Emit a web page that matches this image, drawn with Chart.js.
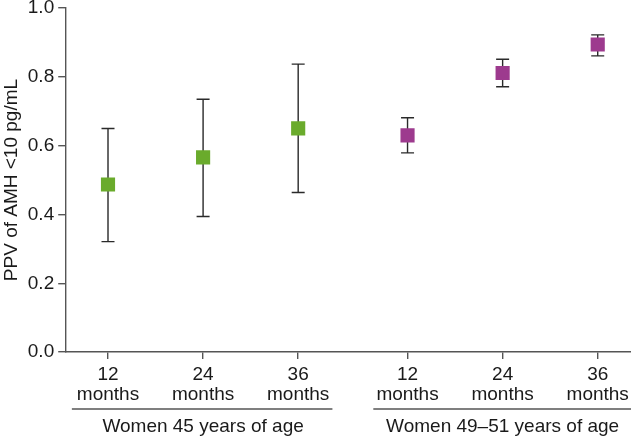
<!DOCTYPE html>
<html>
<head>
<meta charset="utf-8">
<script src="https://cdn.jsdelivr.net/npm/chart.js@4/dist/chart.umd.min.js"></script>
<style>
  body { margin: 0; background: #fff; }
  #wrap { width: 631px; height: 437px; }
</style>
</head>
<body>
<div id="wrap"><canvas id="chart"></canvas></div>
<script>
// positions on the x axis (gap between the two groups)
const xPos = [1, 2, 3, 4.15, 5.15, 6.15];
const monthLabels = ["12", "24", "36", "12", "24", "36"];
const groups = ["Women 45 years of age", "Women 49\u201351 years of age"];

// PPV values and error bars
const ppv = [0.487, 0.566, 0.650, 0.630, 0.811, 0.894];
const lower = [0.321, 0.394, 0.464, 0.579, 0.771, 0.861];
const upper = [0.650, 0.735, 0.837, 0.681, 0.851, 0.922];

const green = "#6aab2c";
const purple = "#9d3a8e";
const axisColor = "#555555";
const textColor = "#1a1a1a";
const fontFamily = "'Liberation Sans', Arial, sans-serif";

const points = xPos.map((x, i) => ({ x: x, y: ppv[i] }));

// error bars drawn behind the squares
const errorBars = {
  id: "errorBars",
  beforeDatasetsDraw(chart) {
    const ctx = chart.ctx;
    const xs = chart.scales.x;
    const ys = chart.scales.y;
    ctx.save();
    ctx.strokeStyle = "#2a2a2a";
    ctx.lineWidth = 1.4;
    xPos.forEach((x, i) => {
      const px = xs.getPixelForValue(x);
      const top = ys.getPixelForValue(upper[i]);
      const bot = ys.getPixelForValue(lower[i]);
      ctx.beginPath();
      ctx.moveTo(px, top); ctx.lineTo(px, bot);
      ctx.moveTo(px - 6.5, top); ctx.lineTo(px + 6.5, top);
      ctx.moveTo(px - 6.5, bot); ctx.lineTo(px + 6.5, bot);
      ctx.stroke();
    });
    ctx.restore();
  }
};

// group underline and label under the tick labels
const groupLabels = {
  id: "groupLabels",
  afterDraw(chart) {
    const ctx = chart.ctx;
    const xs = chart.scales.x;
    const lineY = 409;
    const spans = [[0.62, 3.36], [3.79, 6.6]];
    ctx.save();
    ctx.strokeStyle = axisColor;
    ctx.lineWidth = 1.4;
    ctx.fillStyle = textColor;
    ctx.font = "19px " + fontFamily;
    ctx.textAlign = "center";
    ctx.textBaseline = "middle";
    spans.forEach((s, i) => {
      const a = xs.getPixelForValue(s[0]);
      const b = Math.min(xs.getPixelForValue(s[1]), chart.width);
      ctx.beginPath();
      ctx.moveTo(a, lineY); ctx.lineTo(b, lineY);
      ctx.stroke();
      const c = xs.getPixelForValue(xPos[i * 3 + 1]);
      ctx.fillText(groups[i], c, 427);
    });
    ctx.restore();
  }
};

new Chart(document.getElementById("chart"), {
  type: "scatter",
  data: {
    datasets: [
      {
        data: points,
        pointStyle: "rect",
        pointRadius: 10,
        pointHoverRadius: 10,
        pointBackgroundColor: ppv.map((v, i) => (i < 3 ? green : purple)),
        pointBorderWidth: 0,
        showLine: false
      }
    ]
  },
  options: {
    responsive: true,
    maintainAspectRatio: false,
    animation: false,
    layout: { autoPadding: false, padding: { top: 8, right: 0, bottom: 26, left: 0 } },
    plugins: { legend: { display: false }, tooltip: { enabled: false } },
    scales: {
      x: {
        type: "linear",
        min: 0.55,
        max: 6.5,
        afterBuildTicks(axis) {
          axis.ticks = xPos.map((v) => ({ value: v }));
        },
        afterFit(axis) {
          axis.paddingLeft = 0;
          axis.paddingRight = 0;
        },
        grid: {
          display: true,
          drawOnChartArea: false,
          drawTicks: true,
          tickLength: 7,
          color: axisColor,
          lineWidth: 1.4
        },
        border: { display: true, color: axisColor, width: 1.4 },
        ticks: {
          color: textColor,
          font: { size: 19, family: fontFamily, lineHeight: 1.05 },
          padding: 6,
          maxRotation: 0,
          autoSkip: false,
          callback: function (value) {
            const i = xPos.indexOf(value);
            return i >= 0 ? [monthLabels[i], "months"] : "";
          }
        }
      },
      y: {
        min: 0,
        max: 1,
        afterBuildTicks(axis) {
          axis.ticks = [0, 0.2, 0.4, 0.6, 0.8, 1.0].map((v) => ({ value: v }));
        },
        afterFit(axis) {
          axis.paddingTop = 0;
          axis.paddingBottom = 0;
        },
        grid: {
          display: true,
          drawOnChartArea: false,
          drawTicks: true,
          tickLength: 7,
          color: axisColor,
          lineWidth: 1.4
        },
        border: { display: true, color: axisColor, width: 1.4 },
        title: {
          display: true,
          text: "PPV of AMH <10 pg/mL",
          color: textColor,
          font: { size: 19, family: fontFamily },
          padding: { top: 0, bottom: 1 }
        },
        ticks: {
          color: textColor,
          font: { size: 19, family: fontFamily },
          padding: 4,
          callback: (v) => v.toFixed(1)
        }
      }
    }
  },
  plugins: [errorBars, groupLabels]
});
</script>
</body>
</html>
